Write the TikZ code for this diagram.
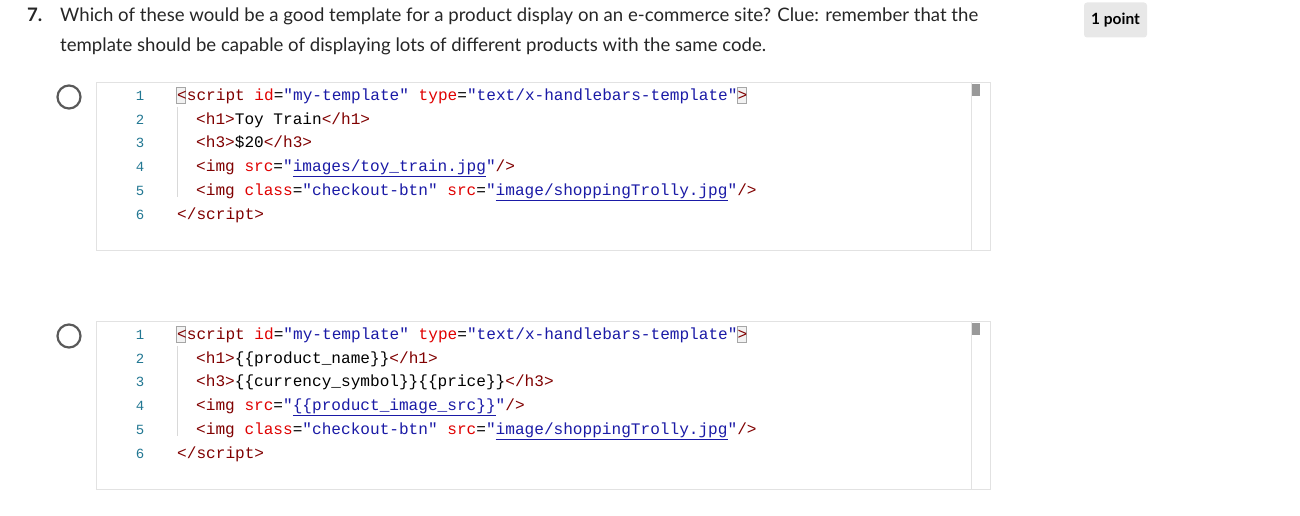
\documentclass[tikz,border=0pt]{standalone}
\usepackage{fontspec}
\setmainfont{Lato}
\newfontfamily\codef{Liberation Mono}
\definecolor{tagc}{HTML}{800000}
\definecolor{attc}{HTML}{E00000}
\definecolor{strc}{HTML}{1A1AA6}
\definecolor{numc}{HTML}{237893}
\definecolor{boxc}{HTML}{E2E2E2}
\newcommand\tg[1]{\textcolor{tagc}{#1}}
\newcommand\at[1]{\textcolor{attc}{#1}}
\newcommand\st[1]{\textcolor{strc}{#1}}
\newcommand\ul[1]{\textcolor{strc}{\underline{#1}}}
\begin{document}
\begin{tikzpicture}[x=1pt,y=-1pt,
  q/.style={anchor=base west,inner sep=0pt,font=\fontsize{18.6}{22}\selectfont,text=black!85},
  code/.style={anchor=base west,inner sep=0pt,font=\codef\fontsize{16.1}{19}\selectfont},
  num/.style={anchor=base,inner sep=0pt,font=\codef\fontsize{14}{16}\selectfont,text=numc},
  radio/.style={draw=black!65,line width=2.2pt,circle,minimum size=23pt,inner sep=0pt},
  cbox/.style={draw=boxc,fill=white,line width=0.8pt}]
\useasboundingbox (0,0) rectangle (1300,516);
\node[q,font=\bfseries\fontsize{18.6}{22}\selectfont] (n7) at (27,22) {7.};
\node[q] (q1) at (60,22) {Which of these would be a good template for a product display on an e-commerce site? Clue: remember that the};
\node[q] (q2) at (60,52) {template should be capable of displaying lots of different products with the same code.};
\node[fill=black!9,rounded corners=3pt,minimum width=63pt,minimum height=35pt,inner sep=0pt,font=\bfseries\fontsize{15.5}{17}\selectfont] (pt) at (1115.5,20) {1 point};
\foreach \by/\nm in {82/a,321/b}{
  \draw[cbox] (96,\by) rectangle (990,\by+168);
  \draw[boxc] (971,\by) -- (971,\by+168);
  \fill[black!40] (972,\by+2) rectangle (980,\by+14);
  \draw[black!15] (177,\by+25) -- (177,\by+115);
  \node[radio] (r\nm) at (69,\by+15) {};
  \foreach \i in {1,...,6}{
    \node[num] (l\nm\i) at (140,\by+18.5+23.7*\i-23.7) {\i};
  }
  \draw[black!35,fill=black!5] (176,\by+5) rectangle (185,\by+21);
  \draw[black!35,fill=black!5] (737,\by+5) rectangle (746,\by+21);
  \node[code] (c\nm1) at (177,\by+18.5) {\tg{<script} \at{id}=\st{"my-template"} \at{type}=\st{"text/x-handlebars-template"}\tg{>}};
  \node[code] (c\nm6) at (177,\by+18.5+5*23.7) {\tg{</script>}};
  \node[code] (c\nm5) at (196,\by+18.5+4*23.7) {\tg{<img} \at{class}=\st{"checkout-btn"} \at{src}=\st{"}\ul{image/shoppingTrolly.jpg}\st{"}\tg{/>}};
}
\node[code] (ca2) at (196,82+18.5+23.7) {\tg{<h1>}Toy Train\tg{</h1>}};
\node[code] (ca3) at (196,82+18.5+2*23.7) {\tg{<h3>}\$20\tg{</h3>}};
\node[code] (ca4) at (196,82+18.5+3*23.7) {\tg{<img} \at{src}=\st{"}\ul{images/toy\_train.jpg}\st{"}\tg{/>}};
\node[code] (cb2) at (196,321+18.5+23.7) {\tg{<h1>}\{\{product\_name\}\}\tg{</h1>}};
\node[code] (cb3) at (196,321+18.5+2*23.7) {\tg{<h3>}\{\{currency\_symbol\}\}\{\{price\}\}\tg{</h3>}};
\node[code] (cb4) at (196,321+18.5+3*23.7) {\tg{<img} \at{src}=\st{"}\ul{\{\{product\_image\_src\}\}}\st{"}\tg{/>}};
\end{tikzpicture}
\end{document}
